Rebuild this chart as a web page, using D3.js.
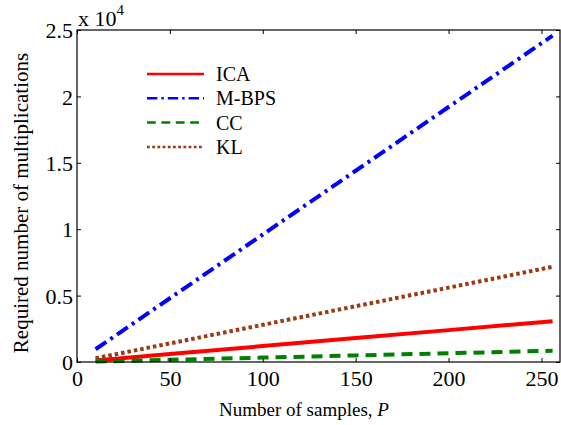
<!DOCTYPE html>
<html>
<head>
<meta charset="utf-8">
<script src="https://cdn.jsdelivr.net/npm/d3@7"></script>
</head>
<body style="margin:0; background:#fff">
<div id="chart"></div>
<script>
// samples P and required multiplications per method
const samples = [10, 50, 100, 150, 200, 256];
const ica  = [120, 600, 1200, 1800, 2400, 3072];
const mbps = [960, 4800, 9600, 14400, 19200, 24576];
const cc   = [33, 165, 330, 495, 660, 845];
const kl   = [280, 1400, 2800, 4200, 5600, 7168];

const xTicks = [0, 50, 100, 150, 200, 250];
const yTicks = [0, 5000, 10000, 15000, 20000, 25000];
const yTickLabels = ['0', '0.5', '1', '1.5', '2', '2.5'];

const series = [
  { name: 'ICA',   values: ica,  color: '#ff0000', dash: null },
  { name: 'M-BPS', values: mbps, color: '#0000ff', dash: '13,5,3,5' },
  { name: 'CC',    values: cc,   color: '#008000', dash: '11,7' },
  { name: 'KL',    values: kl,   color: '#9c3a14', dash: '3.5,3' }
];

const FONT = '"Liberation Serif"';
const width = 561;
const height = 425;
const margin = { top: 30, right: 1, bottom: 63, left: 77 };
const boundedwidth  = width - margin.left - margin.right;
const boundedheight = height - margin.top - margin.bottom;

const xScale = d3.scaleLinear().domain([0, 260]).range([0, boundedwidth]);
const yScale = d3.scaleLinear().domain([0, 25000]).range([boundedheight, 0]);

const root = d3.select('#chart').append('svg')
    .attr('width', width)
    .attr('height', height)
    .attr('font-family', FONT);

const svg = root.append('g')
    .attr('transform', 'translate(' + margin.left + ',' + margin.top + ')');

// lines
const line = d3.line()
    .x((d, i) => xScale(samples[i]))
    .y(d => yScale(d));

series.forEach(s => {
  svg.append('path').datum(s.values)
      .attr('fill', 'none')
      .attr('stroke', s.color)
      .attr('stroke-width', 4)
      .attr('stroke-dasharray', s.dash)
      .attr('d', line);
});

// axes with inward ticks, box-style
const tl = 4;
const xAxis = d3.axisBottom(xScale).tickValues(xTicks).tickSizeInner(-tl).tickSizeOuter(0).tickPadding(8);
const yAxis = d3.axisLeft(yScale).tickValues(yTicks).tickSizeInner(-tl).tickSizeOuter(0).tickPadding(4)
    .tickFormat((d, i) => yTickLabels[i]);

const gx = svg.append('g').attr('transform', `translate(0,${boundedheight})`).call(xAxis);
const gy = svg.append('g').call(yAxis);
svg.append('g').call(d3.axisTop(xScale).tickValues(xTicks).tickSizeInner(-tl).tickSizeOuter(0).tickFormat(''));
svg.append('g').attr('transform', `translate(${boundedwidth},0)`)
    .call(d3.axisRight(yScale).tickValues(yTicks).tickSizeInner(-tl).tickSizeOuter(0).tickFormat(''));

svg.selectAll('.domain').remove();
svg.selectAll('g').attr('font-family', FONT);
svg.selectAll('.tick line').attr('stroke', '#000').attr('stroke-width', 1);
gx.selectAll('text').attr('font-family', FONT).attr('font-size', 22).attr('fill', '#000');
gy.selectAll('text').attr('font-family', FONT).attr('font-size', 22).attr('fill', '#000').attr('dy', '0.35em');

svg.append('rect')
    .attr('width', boundedwidth)
    .attr('height', boundedheight)
    .attr('fill', 'none')
    .attr('stroke', '#000')
    .attr('stroke-width', 1.2);

// exponent label
const expo = root.append('text')
    .attr('x', margin.left + 1)
    .attr('y', 26)
    .attr('font-family', FONT)
    .attr('font-size', 22);
expo.append('tspan').text('x 10');
expo.append('tspan').attr('dy', -11).attr('font-size', 15).text('4');

// axis titles
const xt = root.append('text')
    .attr('x', 304)
    .attr('y', 416)
    .attr('text-anchor', 'middle')
    .attr('font-family', FONT)
    .attr('font-size', 19);
xt.append('tspan').text('Number of samples, ');
xt.append('tspan').attr('font-style', 'italic').text('P');

root.append('text')
    .attr('transform', `translate(28,203) rotate(-90)`)
    .attr('text-anchor', 'middle')
    .attr('font-family', FONT)
    .attr('font-size', 21)
    .text('Required number of multiplications');

// legend
const legend = root.append('g').attr('transform', 'translate(147,74)');
series.forEach((s, i) => {
  const g = legend.append('g').attr('transform', `translate(0,${i * 24.3})`);
  g.append('line')
      .attr('x1', 0).attr('x2', 57)
      .attr('stroke', s.color)
      .attr('stroke-width', 2.5)
      .attr('stroke-dasharray', s.dash ? s.dash.split(',').map(v => v * 0.8).join(',') : null);
  g.append('text')
      .attr('x', 69)
      .attr('dy', '0.35em')
      .attr('font-family', FONT)
      .attr('font-size', 20)
      .text(s.name);
});
</script>
</body>
</html>
